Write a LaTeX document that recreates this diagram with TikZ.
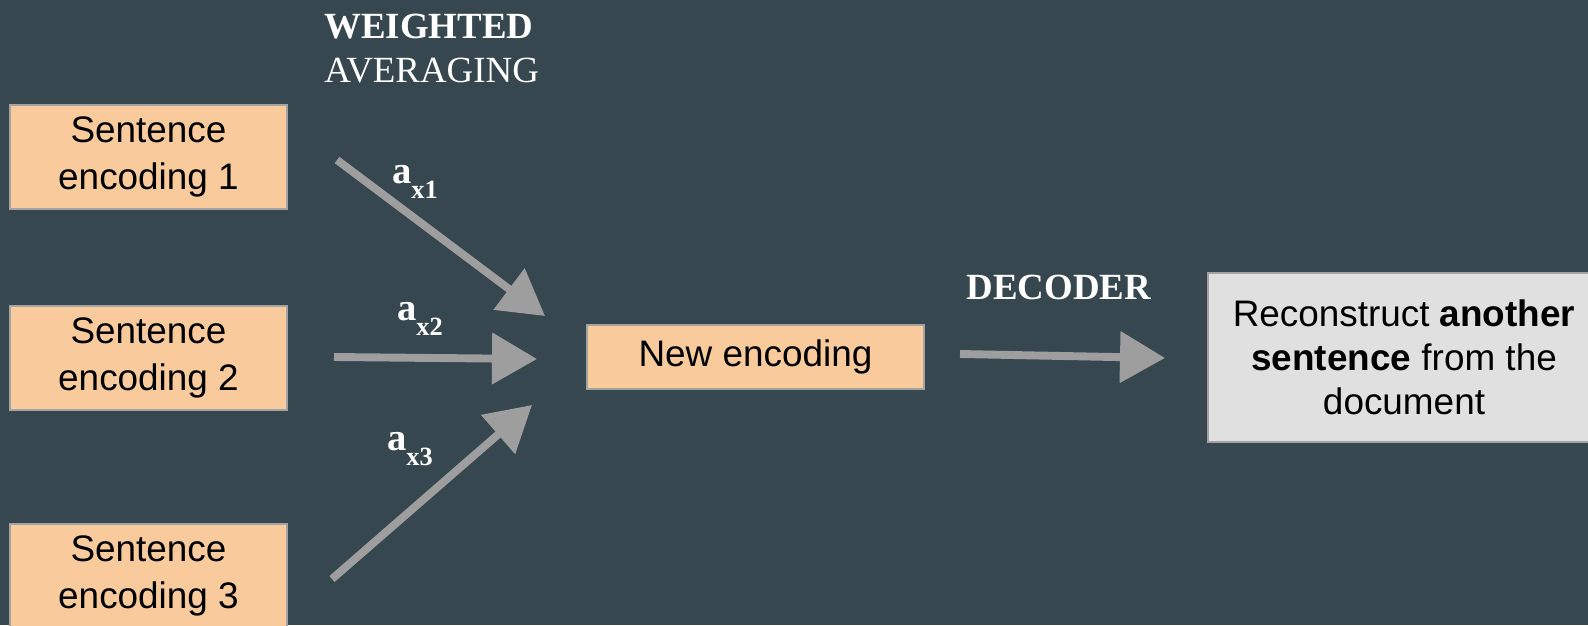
\documentclass[tikz,border=0pt]{standalone}
\usepackage{fontspec}
\setmainfont{Liberation Serif}
\newfontfamily\boxfont{Liberation Sans}
\usetikzlibrary{arrows.meta,positioning}

\definecolor{slate}{HTML}{37474F}
\definecolor{peach}{HTML}{F9CB9C}
\definecolor{lightgrey}{HTML}{E0E0E0}
\definecolor{arrowgrey}{HTML}{9E9E9E}
\definecolor{edgegrey}{HTML}{A3A3A3}

\begin{document}
\begin{tikzpicture}[
  encbox/.style={draw=edgegrey, line width=1pt, fill=peach, align=center, inner sep=0pt,
    font=\boxfont\fontsize{21}{26.5}\selectfont},
  fatarrow/.style={draw=arrowgrey, line width=4.5pt, -{Triangle[length=0.9cm,width=1.0cm]}},
  heading/.style={text=white, inner sep=0pt, font=\fontsize{21}{25}\selectfont},
  weight/.style={text=white, inner sep=0pt, font=\bfseries\fontsize{22}{22}\selectfont}
]
  % Background
  \useasboundingbox (0,0) rectangle (31.76,12.5);
  \fill[slate] (0,0) rectangle (31.76,12.5);

  % Sentence encodings
  \node[encbox, minimum width=5.54cm, minimum height=2.07cm] (s1) at (2.97,9.36) {Sentence\\encoding 1};
  \node[encbox, minimum width=5.54cm, minimum height=2.07cm] (s2) at (2.97,5.34) {Sentence\\encoding 2};
  \node[encbox, minimum width=5.54cm, minimum height=2.07cm] (s3) at (2.97,0.98) {Sentence\\encoding 3};

  % Combined encoding and decoder target
  \node[encbox, minimum width=6.74cm, minimum height=1.28cm] (new) at (15.11,5.36) {New encoding};
  \node[encbox, fill=lightgrey, minimum width=7.84cm, minimum height=3.38cm,
    font=\boxfont\fontsize{21}{25}\selectfont] (rec) at (28.08,5.35)
    {Reconstruct \textbf{another}\\\textbf{sentence} from the\\document};

  % Headings
  \node[heading, anchor=west] (wt) at (6.48,11.96) {\textbf{WEIGHTED}};
  \node[heading, anchor=west] (avg) at (6.48,11.08) {AVERAGING};
  \node[heading] (dec) at (21.18,6.76) {\textbf{DECODER}};

  % Arrow end points
  \coordinate (w1a) at (6.74,9.3);   \coordinate (w1b) at (10.9,6.18);
  \coordinate (w2a) at (6.68,5.36);  \coordinate (w2b) at (10.74,5.32);
  \coordinate (w3a) at (6.64,0.92);  \coordinate (w3b) at (10.64,4.4);
  \coordinate (da) at (19.2,5.42);   \coordinate (db) at (23.3,5.34);

  % Weighting arrows
  \draw[fatarrow] (w1a) -- (w1b);
  \draw[fatarrow] (w2a) -- (w2b);
  \draw[fatarrow] (w3a) -- (w3b);
  \draw[fatarrow] (da) -- (db);

  % Weights
  \node[weight] (ax1) at (8.3,8.86) {a\raisebox{-0.4em}{\fontsize{15}{15}\selectfont x1}};
  \node[weight] (ax2) at (8.4,6.12) {a\raisebox{-0.4em}{\fontsize{15}{15}\selectfont x2}};
  \node[weight] (ax3) at (8.2,3.52) {a\raisebox{-0.4em}{\fontsize{15}{15}\selectfont x3}};
\end{tikzpicture}
\end{document}
